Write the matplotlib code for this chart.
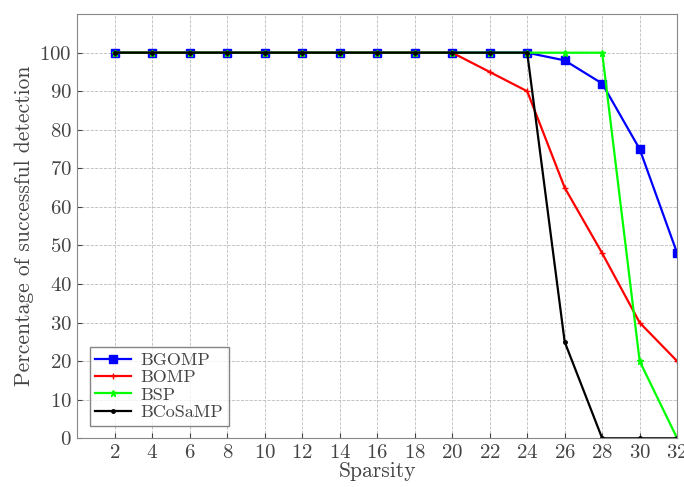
import numpy as np
import matplotlib.pyplot as plt

plt.rcParams['font.family'] = 'cmr10'
plt.rcParams['mathtext.fontset'] = 'cm'
plt.rcParams['axes.formatter.use_mathtext'] = True

sparsity = [2, 4, 6, 8, 10, 12, 14, 16, 18, 20, 22, 24, 26, 28, 30, 32]
bgomp = [100, 100, 100, 100, 100, 100, 100, 100, 100, 100, 100, 100, 98, 92, 75, 48]
bomp = [100, 100, 100, 100, 100, 100, 100, 100, 100, 100, 95, 90, 65, 48, 30, 20]
bsp = [100, 100, 100, 100, 100, 100, 100, 100, 100, 100, 100, 100, 100, 100, 20, 0]
bcosamp = [100, 100, 100, 100, 100, 100, 100, 100, 100, 100, 100, 100, 25, 0, 0, 0]

fig = plt.figure(figsize=(6.84, 4.87), dpi=100)
ax = fig.add_axes([0.113, 0.100, 0.877, 0.871])

ax.plot(sparsity, bgomp, color='#0000ff', marker='s', markersize=5.5, lw=1.6, label='BGOMP')
ax.plot(sparsity, bomp, color='#ff0000', marker='+', markersize=5, lw=1.6, label='BOMP')
ax.plot(sparsity, bsp, color='#00ff00', marker='*', markersize=5, lw=1.6, label='BSP')
ax.plot(sparsity, bcosamp, color='#000000', marker='.', markersize=5, lw=1.6, label='BCoSaMP')

ax.set_xlim(0, 32)
ax.set_ylim(0, 110)
ax.set_xticks(sparsity)
ax.set_yticks(np.arange(0, 101, 10))
ax.tick_params(labelsize=15, direction='in', colors='#444444', pad=4)
ax.grid(True, linestyle='--', color='#bbbbbb', lw=0.6)
for s in ax.spines.values():
    s.set_color('#888888')

ax.set_xlabel('Sparsity', fontsize=15.5, color='#444444', labelpad=0)
ax.set_ylabel('Percentage of successful detection', fontsize=15.5, color='#444444', labelpad=4)

leg = ax.legend(loc='lower left', fontsize=13, fancybox=False, borderaxespad=0.7,
                handlelength=2.0, labelspacing=0.1, borderpad=0.3, handletextpad=0.5)
leg.get_frame().set_edgecolor('#666666')
for t in leg.get_texts():
    t.set_color('#444444')

fig.savefig('out.png', dpi=100)
